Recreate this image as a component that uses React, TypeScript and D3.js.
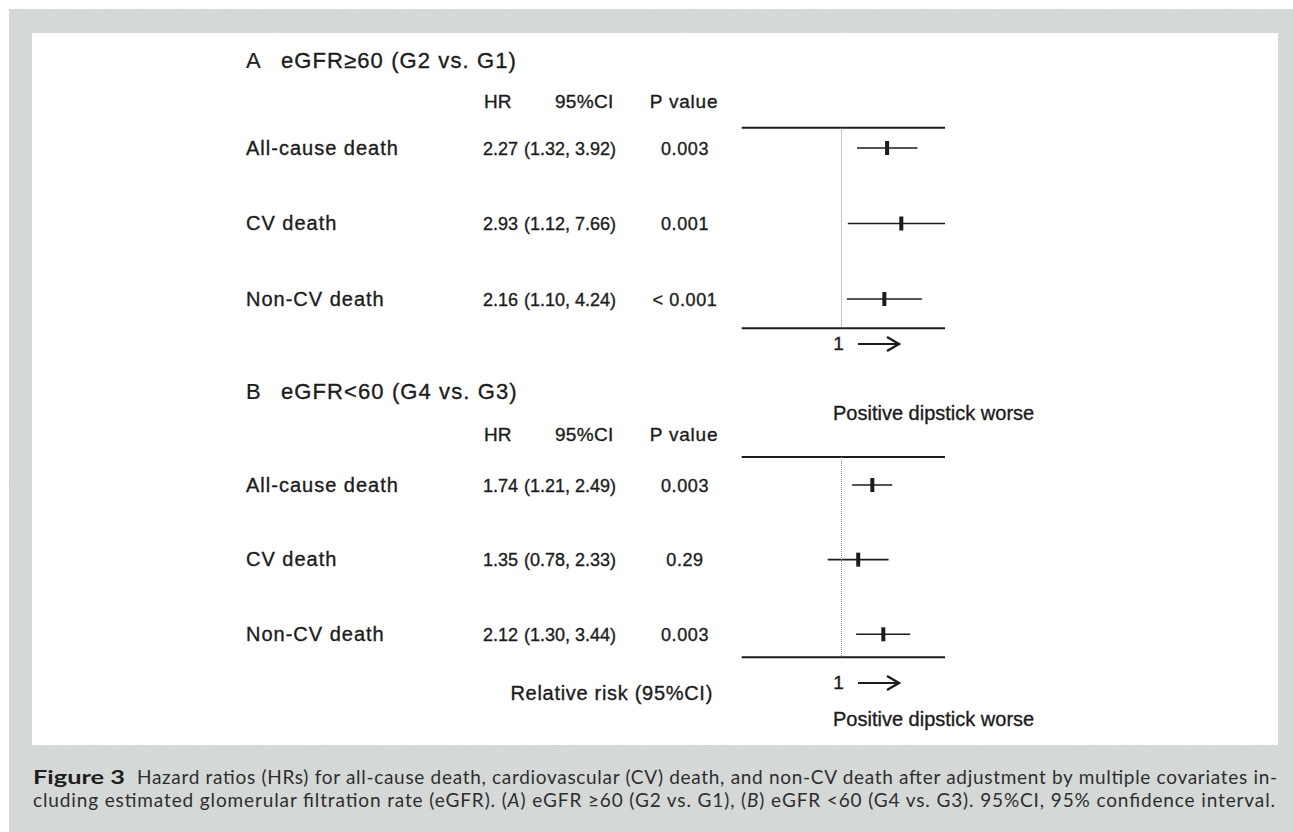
import React from "react";
import * as d3 from "d3";

const WIDTH = 1293;
const HEIGHT = 832;

// outcomes shown in both panels
const outcomes = ["All-cause death", "CV death", "Non-CV death"];

// panel A: eGFR>=60 (G2 vs. G1)
const hrA = [2.27, 2.93, 2.16];
const loA = [1.32, 1.12, 1.1];
const hiA = [3.92, 7.66, 4.24];
const pA = ["0.003", "0.001", "< 0.001"];

// panel B: eGFR<60 (G4 vs. G3)
const hrB = [1.74, 1.35, 2.12];
const loB = [1.21, 0.78, 1.3];
const hiB = [2.49, 2.33, 3.44];
const pB = ["0.003", "0.29", "0.003"];

const fmt = d3.format(".2f");

// relative risk axis, log scale, values past the frame are clipped
const xScale = d3.scaleLog().domain([0.166, 6.43]).range([741.7, 945]).clamp(true);

const chartFont = "'Liberation Sans', Arial, sans-serif";
const captionFont = "Lato, 'Open Sans', sans-serif";
const ink = "#1c1c1c";

const panels = [
  {
    letter: "A",
    title: "eGFR\u226560 (G2 vs. G1)",
    hr: hrA, lo: loA, hi: hiA, p: pA,
    titleY: 68, headerY: 108, top: 127.7, rows: [148, 299], bottom: 328.3,
    oneY: 350, worseY: 420, relY: null,
  },
  {
    letter: "B",
    title: "eGFR<60 (G4 vs. G3)",
    hr: hrB, lo: loB, hi: hiB, p: pB,
    titleY: 399, headerY: 441, top: 457, rows: [485, 634.3], bottom: 657.3,
    oneY: 689, worseY: 726, relY: 700,
  },
];

function Panel({ d }) {
  const y = d3.scalePoint().domain(outcomes).range(d.rows);
  const x1 = xScale(1);
  const [x0, xEnd] = xScale.range();
  const text = { fontFamily: chartFont, fill: ink, stroke: ink, strokeWidth: 0.35 };

  return (
    <g>
      <text x={246} y={d.titleY} fontSize={22} {...text} strokeWidth={0.2}>{d.letter}</text>
      <text x={281} y={d.titleY} fontSize={22} letterSpacing={1.1} {...text}>{d.title}</text>

      <g fontSize={19}>
        <text x={484} y={d.headerY} {...text}>HR</text>
        <text x={555} y={d.headerY} letterSpacing={0.3} {...text}>95%CI</text>
        <text x={684} y={d.headerY} textAnchor="middle" letterSpacing={0.8} {...text}>P value</text>
      </g>

      {outcomes.map((o, i) => (
        <g key={o} fontSize={18}>
          <text x={246} y={y(o) + 6.5} fontSize={20} letterSpacing={1} {...text}>{o}</text>
          <text x={483} y={y(o) + 6.5} {...text}>{fmt(d.hr[i])}</text>
          <text x={524} y={y(o) + 6.5} {...text}>
            {`(${fmt(d.lo[i])}, ${fmt(d.hi[i])})`}
          </text>
          <text x={685} y={y(o) + 6.5} textAnchor="middle" letterSpacing={0.6} {...text}>{d.p[i]}</text>

          <line x1={xScale(d.lo[i])} x2={xScale(d.hi[i])} y1={y(o)} y2={y(o)}
            stroke={ink} strokeWidth={1.6} />
          <rect x={xScale(d.hr[i]) - 2} y={y(o) - 7} width={4} height={14} fill={ink} />
        </g>
      ))}

      {/* frame lines and reference line at 1 */}
      <line x1={x0} x2={xEnd} y1={d.top} y2={d.top} stroke={ink} strokeWidth={2} />
      <line x1={x0} x2={xEnd} y1={d.bottom} y2={d.bottom} stroke={ink} strokeWidth={2} />
      <line x1={x1} x2={x1} y1={d.top} y2={d.bottom} stroke="#888" strokeWidth={1}
        strokeDasharray="1 1" />

      <text x={x1 - 3} y={d.oneY} fontSize={19} textAnchor="middle" {...text}>1</text>
      <line x1={858} x2={897} y1={d.oneY - 6} y2={d.oneY - 6} stroke={ink} strokeWidth={2.2} />
      <path d={`M887,${d.oneY - 13} L899,${d.oneY - 6} L887,${d.oneY + 1}`}
        fill="none" stroke={ink} strokeWidth={2.4} />

      <text x={833} y={d.worseY} fontSize={20} {...text}>Positive dipstick worse</text>
      {d.relY && (
        <text x={713} y={d.relY} fontSize={20} letterSpacing={0.7} textAnchor="end" {...text}>
          Relative risk (95%CI)
        </text>
      )}
    </g>
  );
}

export default function App() {
  return (
    <svg width={WIDTH} height={HEIGHT} style={{ position: "absolute", left: 0, top: 0 }}>
      <defs>
        <filter id="grain" x="0" y="0" width="100%" height="100%">
          <feTurbulence type="fractalNoise" baseFrequency="0.9" numOctaves={2} seed={3} />
          <feColorMatrix type="matrix"
            values="0 0 0 0 0.55  0 0 0 0 0.58  0 0 0 0 0.57  0 0 0 0.18 0" />
          <feComposite in2="SourceGraphic" operator="in" />
        </filter>
      </defs>
      <rect width={WIDTH} height={HEIGHT} fill="#fff" />
      <rect x={9} y={9} width={WIDTH - 9} height={HEIGHT - 9} fill="#d6dad8" />
      <rect x={9} y={9} width={WIDTH - 9} height={HEIGHT - 9} fill="#d6dad8" filter="url(#grain)" />
      <rect x={32} y={33} width={1246} height={712} fill="#fff" />

      {panels.map((p) => (
        <Panel key={p.letter} d={p} />
      ))}

      <g fontFamily={captionFont} fontSize={19} fill="#2e2e2e">
        <text x={33} y={784} fontWeight="bold" fill="#1e1e1e" textLength={92} lengthAdjust="spacingAndGlyphs">
          Figure 3
        </text>
        <text x={137} y={784} textLength={1140} lengthAdjust="spacing">
          Hazard ratios (HRs) for all-cause death, cardiovascular (CV) death, and non-CV death after adjustment by multiple covariates in-
        </text>
        <text x={33} y={807} textLength={1242} lengthAdjust="spacing">
          cluding estimated glomerular filtration rate (eGFR). (<tspan fontStyle="italic">A</tspan>) eGFR {"\u2265"}60 (G2 vs. G1), (<tspan fontStyle="italic">B</tspan>) eGFR {"<"}60 (G4 vs. G3). 95%CI, 95% confidence interval.
        </text>
      </g>
    </svg>
  );
}
